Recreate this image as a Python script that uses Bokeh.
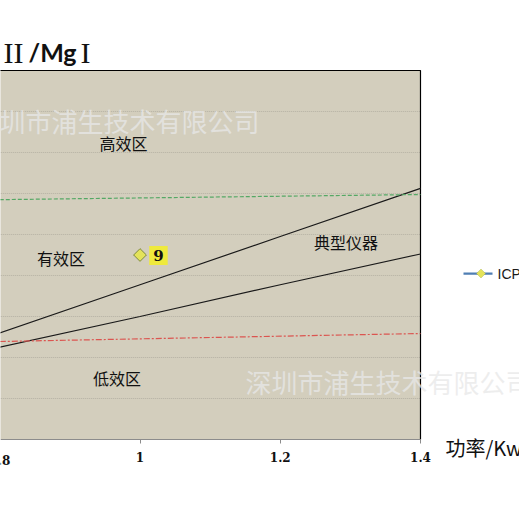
from bokeh.plotting import figure
from bokeh.models import (Range1d, FixedTicker, Label, BoxAnnotation, PolyAnnotation,
                          CustomJSTickFormatter)
from bokeh.embed import file_html
from bokeh.resources import INLINE

# ---- data ----
power = [0.8, 1.0, 1.2, 1.4]
typical_upper = [5.2, 7.55, 9.9, 12.25]
typical_lower = [4.5, 6.0, 7.55, 9.05]
bound_x = [0.8, 1.4]
high_bound = [11.7, 11.95]
low_bound = [4.78, 5.17]
icp_x = [1.0]
icp_y = [9]
x_ticks = [0.8, 1.0, 1.2, 1.4]
y_grid = [2, 4, 6, 8, 10, 12, 14, 16]

# plot-area extent (data units); the picture is cropped on the left
x_lo, x_hi = 0.79, 1.4
y_lo, y_hi = 0, 18

CJK = "Noto Sans CJK SC"
ICP_BLUE = "#4F7EB3"
ICP_FILL = "#E4E35A"

# frame covers the whole picture; the beige plot area is drawn inside it
p = figure(width=519, height=519, output_backend="svg", toolbar_location=None,
           x_range=Range1d(0.801, 1.54121), y_range=Range1d(-1.9512, 21.4146),
           y_axis_location=None, min_border_left=0, min_border_right=0,
           min_border_top=0, min_border_bottom=40)
p.background_fill_color = "white"
p.border_fill_color = "white"
p.outline_line_color = None
p.xgrid.visible = False
p.ygrid.visible = False

ax = p.xaxis[0]
ax.fixed_location = 0
ax.bounds = (0.8, 1.4)
ax.ticker = FixedTicker(ticks=x_ticks)
ax.formatter = CustomJSTickFormatter(code="return (Math.round(tick*10)/10).toString();")
ax.axis_line_color = "#8C8C8C"
ax.major_tick_line_color = "#8C8C8C"
ax.major_tick_out = 4
ax.major_tick_in = 0
ax.minor_tick_line_color = None
ax.major_label_text_font = "DejaVu Serif"
ax.major_label_text_font_style = "bold"
ax.major_label_text_font_size = "12px"
ax.major_label_text_color = "#111111"
ax.major_label_standoff = 8

# plot area, grid lines, border
p.quad(left=[x_lo], right=[x_hi], bottom=[y_lo], top=[y_hi],
       fill_color="#D3CEBD", line_color=None)
p.segment(x0=[x_lo] * len(y_grid), x1=[x_hi] * len(y_grid), y0=y_grid, y1=y_grid,
          line_color="#B5B1A3", line_dash="1 1", line_width=1)
p.line([x_lo, x_hi, x_hi], [y_hi, y_hi, y_lo], line_color="black", line_width=1.2)

# lines
p.line(power, typical_upper, line_color="#1a1a1a", line_width=1.2)
p.line(power, typical_lower, line_color="#1a1a1a", line_width=1.2)
p.line(bound_x, high_bound, line_color="#55A865", line_width=1.2, line_dash="4 2")
p.line(bound_x, low_bound, line_color="#DB5550", line_width=1.2, line_dash="6 2 2 2")

# ICP series
p.line(icp_x, icp_y, line_color=ICP_BLUE, line_width=2)
p.scatter(icp_x, icp_y, marker="square", size=9, angle=0.7854, fill_color=ICP_FILL,
          line_color="#7E8A3A", line_width=1)

# legend entry for ICP (drawn by hand so the marker is a true diamond)
p.add_layout(BoxAnnotation(left=463, right=492, top=272, bottom=274.2,
                           left_units="canvas", right_units="canvas",
                           top_units="canvas", bottom_units="canvas",
                           fill_color=ICP_BLUE, fill_alpha=1, line_color=None,
                           level="overlay"))
p.add_layout(PolyAnnotation(xs=[480.5, 485, 480.5, 476], ys=[268.5, 273, 277.5, 273],
                            xs_units="canvas", ys_units="canvas",
                            fill_color=ICP_FILL, fill_alpha=1, line_color="#8E9A3A",
                            line_width=1, level="overlay"))
p.add_layout(Label(x=497, y=273, x_units="canvas", y_units="canvas", text="ICP",
                   text_align="left", text_baseline="middle", text_font="Liberation Sans",
                   text_font_size="14px", text_color="#1a1a1a", level="overlay"))

# value label
p.add_layout(Label(x=1.0263, y=8.98, text="9", text_align="center", text_baseline="middle",
                   text_font="DejaVu Serif", text_font_style="bold", text_font_size="15px",
                   text_color="#111111", background_fill_color="#EFEA3C",
                   padding=4))

# zone texts
for tx, ty, t in [(0.9764, 14.44, "高效区"), (0.8873, 8.83, "有效区"),
                  (1.2937, 9.61, "典型仪器"), (0.9672, 2.98, "低效区")]:
    p.add_layout(Label(x=tx, y=ty, text=t, text_align="center", text_baseline="middle",
                       text_font=CJK, text_font_size="16px", text_color="#111111"))

# watermarks
for tx, ty in [(0.76249, 15.561), (1.15042, 2.829)]:
    p.add_layout(Label(x=tx, y=ty, text="深圳市浦生技术有限公司", text_align="left",
                       text_baseline="middle", text_font=CJK, text_font_size="26px",
                       text_color="#E8E8E8", text_alpha=0.75))

# axis title
p.add_layout(Label(x=1.43565, y=-0.39, text="功率/Kw", text_align="left",
                   text_baseline="middle", text_font=CJK, text_font_size="20px",
                   text_color="#111111"))
# cut-off 0.8 tick label
p.add_layout(Label(x=0.8, y=-1.024, text="0.8", text_align="center", text_baseline="middle",
                   text_font="DejaVu Serif", text_font_style="bold", text_font_size="12px",
                   text_color="#111111"))

# y title (cut off on the left)
title_y = 18.88
p.add_layout(Label(x=0.80528, y=title_y, text="II", text_align="left",
                   text_baseline="alphabetic", text_font="Liberation Serif",
                   text_font_size="30px", text_color="#111111"))
p.add_layout(Label(x=0.84093, y=title_y, text="/Mg", text_align="left",
                   text_baseline="alphabetic", text_font="Lato", text_font_style="bold",
                   text_font_size="25px", text_color="#111111"))
p.add_layout(Label(x=0.91510, y=title_y, text="I", text_align="left",
                   text_baseline="alphabetic", text_font="Liberation Serif",
                   text_font_size="30px", text_color="#111111"))

open("out.html", "w").write(file_html(p, INLINE))
